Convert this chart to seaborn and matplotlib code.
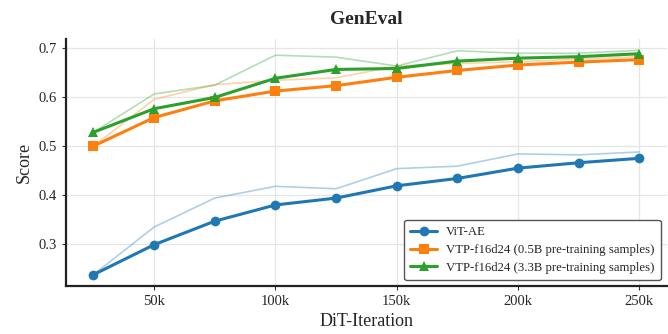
import numpy as np
import pandas as pd
import matplotlib
matplotlib.use("Agg")
import matplotlib.pyplot as plt
import seaborn as sns

iterations = [25000, 50000, 75000, 100000, 125000, 150000, 175000, 200000, 225000, 250000]

# smoothed curves (bold, with markers)
vit_ae = [0.238, 0.299, 0.347, 0.380, 0.394, 0.419, 0.434, 0.455, 0.466, 0.475]
vtp_05b = [0.500, 0.558, 0.592, 0.612, 0.623, 0.640, 0.654, 0.665, 0.671, 0.676]
vtp_33b = [0.528, 0.576, 0.599, 0.638, 0.656, 0.658, 0.673, 0.679, 0.682, 0.688]

# raw curves (faint)
vit_ae_raw = [0.238, 0.335, 0.394, 0.418, 0.413, 0.454, 0.459, 0.484, 0.482, 0.488]
vtp_05b_raw = [0.500, 0.595, 0.625, 0.634, 0.639, 0.663, 0.668, 0.672, 0.677, 0.682]
vtp_33b_raw = [0.528, 0.606, 0.624, 0.685, 0.681, 0.663, 0.694, 0.689, 0.689, 0.695]

labels = ["ViT-AE",
          "VTP-f16d24 (0.5B pre-training samples)",
          "VTP-f16d24 (3.3B pre-training samples)"]
x_ticks = [50000, 100000, 150000, 200000, 250000]
x_tick_labels = ["50k", "100k", "150k", "200k", "250k"]
y_ticks = [0.3, 0.4, 0.5, 0.6, 0.7]

sns.set_style("ticks")
plt.rcParams["font.family"] = ["Liberation Serif", "DejaVu Serif"]

colors = ["#1f77b4", "#ff7f0e", "#2ca02c"]
markers = ["o", "s", "^"]

fig = plt.figure(figsize=(6.68, 3.34), dpi=100)
ax = fig.add_axes([0.099, 0.144, 0.899, 0.739])

smooth = [vit_ae, vtp_05b, vtp_33b]
raw = [vit_ae_raw, vtp_05b_raw, vtp_33b_raw]

for r, c in zip(raw, colors):
    sns.lineplot(x=iterations, y=r, ax=ax, color=c, linewidth=1.2, alpha=0.35)

for s, c, m, lab in zip(smooth, colors, markers, labels):
    sns.lineplot(x=iterations, y=s, ax=ax, color=c, linewidth=2.2, marker=m,
                 markersize=7, markeredgewidth=0, label=lab)

ax.set_xticks(x_ticks)
ax.set_xticklabels(x_tick_labels)
ax.set_yticks(y_ticks)
ax.set_yticklabels([f"{v:.1f}" for v in y_ticks])
ax.tick_params(labelsize=10.5, length=3, width=0.8, color="#333333")
ax.grid(True, color="#e6e6e6", linewidth=0.9)
ax.set_axisbelow(True)

for side in ["top", "right"]:
    ax.spines[side].set_visible(False)
for side in ["left", "bottom"]:
    ax.spines[side].set_linewidth(1.6)
    ax.spines[side].set_color("#222222")

ax.set_xlabel("DiT-Iteration", fontsize=13)
ax.set_ylabel("Score", fontsize=13)
ax.set_title("GenEval", fontsize=14, fontweight="bold", pad=11)

leg = ax.legend(loc="lower right", fontsize=9.2, frameon=True, fancybox=True,
                framealpha=1.0, edgecolor="#555555", borderaxespad=0.45,
                handlelength=2.1, handletextpad=0.7, labelspacing=0.45,
                borderpad=0.5)
leg.get_frame().set_linewidth(1.0)

fig.savefig("out.png", dpi=100)
